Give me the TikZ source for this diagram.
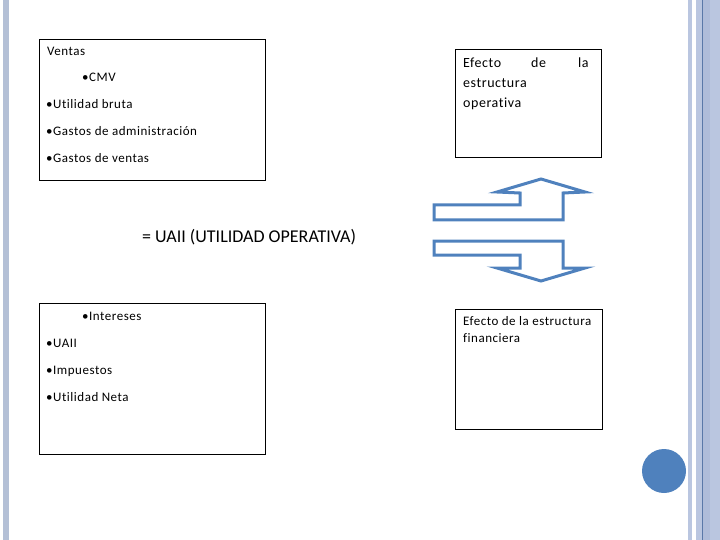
\documentclass[tikz,border=0pt]{standalone}
\usepackage{fontspec}
\setmainfont[Ligatures=NoCommon]{Carlito}
\newfontfamily\spaced[Ligatures=NoCommon, LetterSpace=4]{Carlito}
\definecolor{strip}{HTML}{B4C0D6}
\definecolor{stripB}{HTML}{BAC6E0}
\definecolor{stripC}{HTML}{AFBCD9}
\definecolor{stripD}{HTML}{5A78A8}
\definecolor{arrowblue}{HTML}{4F81BD}
\tikzset{
  box/.style={draw=black, line width=0.9pt},
  txt/.style={anchor=base west, inner sep=0pt, font=\spaced\fontsize{13}{15}\selectfont},
  txtbig/.style={anchor=base west, inner sep=0pt, font=\spaced\fontsize{14}{17}\selectfont},
  bigarrow/.style={draw=arrowblue, line width=3pt, line join=miter},
}
\begin{document}
\begin{tikzpicture}[x=1pt,y=-1pt]
\useasboundingbox (0,0) rectangle (720,540);
% side strips
\fill[strip] (3,0) rectangle (9,540);
\fill[stripB] (688,0) rectangle (692,540);
\fill[stripB] (696,0) rectangle (720,540);
\fill[stripC] (703,0) rectangle (710,540);
\draw[stripD, line width=1pt] (702.5,0) -- (702.5,540);
% boxes
\draw[box] (39,39) rectangle (265,180);
\draw[box] (455,49) rectangle (601,157);
\draw[box] (39,303) rectangle (265,454);
\draw[box] (455,309) rectangle (602,429);
% box 1 text
\node[txt] (t1) at (47,56) {Ventas};
\node[txt] (t2) at (82,82) {\textbullet CMV};
\node[txt] (t3) at (46,109) {\textbullet Utilidad bruta};
\node[txt] (t4) at (46,136) {\textbullet Gastos de administración};
\node[txt] (t5) at (46,163) {\textbullet Gastos de ventas};
% middle text
\node[anchor=base west, inner sep=0pt, font=\fontsize{18}{21}\selectfont] (uaii) at (142,242) {= UAII (UTILIDAD OPERATIVA)};
% box 2 text
\node[txtbig] (e1) at (463,68) {Efecto};
\node[txtbig] (e2) at (531,68) {de};
\node[txtbig] (e3) at (578,68) {la};
\node[txtbig] (e4) at (463,88) {estructura};
\node[txtbig] (e5) at (463,108) {operativa};
% box 3 text
\node[txt] (i1) at (82,320) {\textbullet Intereses};
\node[txt] (i2) at (46,347) {\textbullet UAII};
\node[txt] (i3) at (46,374) {\textbullet Impuestos};
\node[txt] (i4) at (46,401) {\textbullet Utilidad Neta};
% box 4 text
\node[txt] (f1) at (463,325) {Efecto de la estructura};
\node[txt] (f2) at (463,342) {financiera};
% arrows
\draw[bigarrow] (434,205) -- (520,205) -- (520,193) -- (497,192) -- (541,179) -- (585,192) -- (563,193) -- (563,220) -- (434,220) -- cycle;
\draw[bigarrow] (434,241) -- (563,241) -- (563,268) -- (585,268) -- (541,281) -- (497,268) -- (520,268) -- (520,255) -- (434,255) -- cycle;
% circle
\fill[arrowblue] (664,471) circle (22);
\end{tikzpicture}
\end{document}
